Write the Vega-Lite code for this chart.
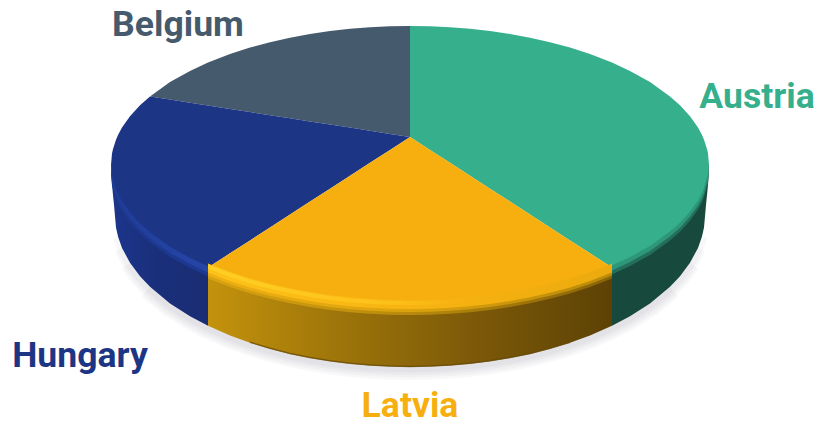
{
  "$schema": "https://vega.github.io/schema/vega-lite/v6.json",
  "width": 820,
  "height": 422,
  "padding": 0,
  "autosize": {"type": "none"},
  "background": "white",
  "config": {"view": {"stroke": null}},
  "datasets": {
    "faces": [
      {"slice":"Austria","x":0,"y":139,"y2":28},{"slice":"Austria","x":20,"y":138.7,"y2":15.1},{"slice":"Austria","x":40,"y":137.8,"y2":2.2},{"slice":"Austria","x":60,"y":136.2,"y2":-10.8},{"slice":"Austria","x":80,"y":133.9,"y2":-23.7},{"slice":"Austria","x":100,"y":131,"y2":-36.6},{"slice":"Austria","x":120,"y":127.3,"y2":-49.5},{"slice":"Austria","x":140,"y":122.8,"y2":-62.4},{"slice":"Austria","x":160,"y":117.4,"y2":-75.4},{"slice":"Austria","x":180,"y":111,"y2":-88.3},{"slice":"Austria","x":202,"y":102.5,"y2":-102.5},{"slice":"Austria","x":220,"y":94.1,"y2":-94.1},{"slice":"Austria","x":240,"y":82.9,"y2":-82.9},{"slice":"Austria","x":260,"y":68.6,"y2":-68.6},{"slice":"Austria","x":270,"y":59.7,"y2":-59.7},{"slice":"Austria","x":280,"y":48.8,"y2":-48.8},{"slice":"Austria","x":288,"y":37.4,"y2":-37.4},{"slice":"Austria","x":292,"y":29.9,"y2":-29.9},{"slice":"Austria","x":294,"y":25.3,"y2":-25.3},{"slice":"Austria","x":297,"y":16.1,"y2":-16.1},{"slice":"Austria","x":298,"y":11.4,"y2":-11.4},{"slice":"Austria","x":299,"y":0,"y2":0},
      {"slice":"Latvia","x":-202,"y":-102.5,"y2":-102.5},{"slice":"Latvia","x":-180,"y":-88.3,"y2":-111},{"slice":"Latvia","x":-160,"y":-75.4,"y2":-117.4},{"slice":"Latvia","x":-140,"y":-62.4,"y2":-122.8},{"slice":"Latvia","x":-120,"y":-49.5,"y2":-127.3},{"slice":"Latvia","x":-100,"y":-36.6,"y2":-131},{"slice":"Latvia","x":-80,"y":-23.7,"y2":-133.9},{"slice":"Latvia","x":-60,"y":-10.8,"y2":-136.2},{"slice":"Latvia","x":-40,"y":2.2,"y2":-137.8},{"slice":"Latvia","x":-20,"y":15.1,"y2":-138.7},{"slice":"Latvia","x":0,"y":28,"y2":-139},{"slice":"Latvia","x":20,"y":15.1,"y2":-138.7},{"slice":"Latvia","x":40,"y":2.2,"y2":-137.8},{"slice":"Latvia","x":60,"y":-10.8,"y2":-136.2},{"slice":"Latvia","x":80,"y":-23.7,"y2":-133.9},{"slice":"Latvia","x":100,"y":-36.6,"y2":-131},{"slice":"Latvia","x":120,"y":-49.5,"y2":-127.3},{"slice":"Latvia","x":140,"y":-62.4,"y2":-122.8},{"slice":"Latvia","x":160,"y":-75.4,"y2":-117.4},{"slice":"Latvia","x":180,"y":-88.3,"y2":-111},{"slice":"Latvia","x":202,"y":-102.5,"y2":-102.5},
      {"slice":"Hungary","x":-299,"y":0,"y2":0},{"slice":"Hungary","x":-298,"y":11.4,"y2":-11.4},{"slice":"Hungary","x":-297,"y":16.1,"y2":-16.1},{"slice":"Hungary","x":-294,"y":25.3,"y2":-25.3},{"slice":"Hungary","x":-292,"y":29.9,"y2":-29.9},{"slice":"Hungary","x":-288,"y":37.4,"y2":-37.4},{"slice":"Hungary","x":-280,"y":48.8,"y2":-48.8},{"slice":"Hungary","x":-270,"y":59.7,"y2":-59.7},{"slice":"Hungary","x":-260,"y":68.6,"y2":-68.6},{"slice":"Hungary","x":-240,"y":65.4,"y2":-82.9},{"slice":"Hungary","x":-220,"y":62.3,"y2":-94.1},{"slice":"Hungary","x":-202,"y":59.5,"y2":-102.5},{"slice":"Hungary","x":-180,"y":56.1,"y2":-88.3},{"slice":"Hungary","x":-160,"y":53,"y2":-75.4},{"slice":"Hungary","x":-140,"y":49.8,"y2":-62.4},{"slice":"Hungary","x":-120,"y":46.7,"y2":-49.5},{"slice":"Hungary","x":-100,"y":43.6,"y2":-36.6},{"slice":"Hungary","x":-80,"y":40.5,"y2":-23.7},{"slice":"Hungary","x":-60,"y":37.4,"y2":-10.8},{"slice":"Hungary","x":-40,"y":34.2,"y2":2.2},{"slice":"Hungary","x":-20,"y":31.1,"y2":15.1},{"slice":"Hungary","x":0,"y":28,"y2":28},
      {"slice":"Belgium","x":-260,"y":68.6,"y2":68.6},{"slice":"Belgium","x":-240,"y":82.9,"y2":65.4},{"slice":"Belgium","x":-220,"y":94.1,"y2":62.3},{"slice":"Belgium","x":-202,"y":102.5,"y2":59.5},{"slice":"Belgium","x":-180,"y":111,"y2":56.1},{"slice":"Belgium","x":-160,"y":117.4,"y2":53},{"slice":"Belgium","x":-140,"y":122.8,"y2":49.8},{"slice":"Belgium","x":-120,"y":127.3,"y2":46.7},{"slice":"Belgium","x":-100,"y":131,"y2":43.6},{"slice":"Belgium","x":-80,"y":133.9,"y2":40.5},{"slice":"Belgium","x":-60,"y":136.2,"y2":37.4},{"slice":"Belgium","x":-40,"y":137.8,"y2":34.2},{"slice":"Belgium","x":-20,"y":138.7,"y2":31.1},{"slice":"Belgium","x":0,"y":139,"y2":28}
    ],
    "walls": [
      {"slice":"Hungary","x":-299,"y":0,"y2":0},{"slice":"Hungary","x":-298,"y":-11.4,"y2":-20},{"slice":"Hungary","x":-296,"y":-18,"y2":-40},{"slice":"Hungary","x":-294,"y":-25.3,"y2":-62.5},{"slice":"Hungary","x":-292,"y":-29.9,"y2":-71.6},{"slice":"Hungary","x":-288,"y":-37.4,"y2":-82.9},{"slice":"Hungary","x":-280,"y":-48.8,"y2":-97.8},{"slice":"Hungary","x":-270,"y":-59.7,"y2":-111.2},{"slice":"Hungary","x":-260,"y":-68.6,"y2":-121.8},{"slice":"Hungary","x":-240,"y":-82.9,"y2":-138.4},{"slice":"Hungary","x":-220,"y":-94.1,"y2":-151.3},{"slice":"Hungary","x":-202,"y":-102.5,"y2":-160.8},
      {"slice":"Latvia","x":-202,"y":-102.5,"y2":-160.8},{"slice":"Latvia","x":-180,"y":-111,"y2":-170.4},{"slice":"Latvia","x":-160,"y":-117.4,"y2":-177.7},{"slice":"Latvia","x":-140,"y":-122.8,"y2":-183.8},{"slice":"Latvia","x":-120,"y":-127.3,"y2":-188.9},{"slice":"Latvia","x":-100,"y":-131,"y2":-193},{"slice":"Latvia","x":-80,"y":-133.9,"y2":-196.3},{"slice":"Latvia","x":-60,"y":-136.2,"y2":-198.8},{"slice":"Latvia","x":-40,"y":-137.8,"y2":-200.6},{"slice":"Latvia","x":-20,"y":-138.7,"y2":-201.6},{"slice":"Latvia","x":0,"y":-139,"y2":-202},{"slice":"Latvia","x":20,"y":-138.7,"y2":-201.6},{"slice":"Latvia","x":40,"y":-137.8,"y2":-200.6},{"slice":"Latvia","x":60,"y":-136.2,"y2":-198.8},{"slice":"Latvia","x":80,"y":-133.9,"y2":-196.3},{"slice":"Latvia","x":100,"y":-131,"y2":-193},{"slice":"Latvia","x":120,"y":-127.3,"y2":-188.9},{"slice":"Latvia","x":140,"y":-122.8,"y2":-183.8},{"slice":"Latvia","x":160,"y":-117.4,"y2":-177.7},{"slice":"Latvia","x":180,"y":-111,"y2":-170.4},{"slice":"Latvia","x":202,"y":-102.5,"y2":-160.8},
      {"slice":"Austria","x":202,"y":-102.5,"y2":-160.8},{"slice":"Austria","x":220,"y":-94.1,"y2":-151.3},{"slice":"Austria","x":240,"y":-82.9,"y2":-138.4},{"slice":"Austria","x":260,"y":-68.6,"y2":-121.8},{"slice":"Austria","x":270,"y":-59.7,"y2":-111.2},{"slice":"Austria","x":280,"y":-48.8,"y2":-97.8},{"slice":"Austria","x":288,"y":-37.4,"y2":-82.9},{"slice":"Austria","x":292,"y":-29.9,"y2":-71.6},{"slice":"Austria","x":294,"y":-25.3,"y2":-62.5},{"slice":"Austria","x":296,"y":-18,"y2":-40},{"slice":"Austria","x":298,"y":-11.4,"y2":-20},{"slice":"Austria","x":299,"y":0,"y2":0}
    ],
    "labels": [
      {"slice":"Austria","x":347,"y":57},
      {"slice":"Belgium","x":-232,"y":129},
      {"slice":"Hungary","x":-330,"y":-202},
      {"slice":"Latvia","x":0,"y":-252}
    ]
  },
  "encoding": {
    "x": {"field":"x","type":"quantitative","axis":null,"scale":{"domain":[-410,410],"nice":false,"zero":false}},
    "y": {"field":"y","type":"quantitative","axis":null,"scale":{"domain":[-257,165],"nice":false,"zero":false}}
  },
  "layer": [
    {"data":{"name":"walls"},"transform":[{"filter":"abs(datum.x) <= 260"}],"mark":{"type":"line","stroke":"#66666e","strokeWidth":26,"opacity":0.045},"encoding":{"y":{"field":"y2","type":"quantitative"}}},
    {"data":{"name":"walls"},"transform":[{"filter":"abs(datum.x) <= 280"}],"mark":{"type":"line","stroke":"#66666e","strokeWidth":21,"opacity":0.045},"encoding":{"y":{"field":"y2","type":"quantitative"}}},
    {"data":{"name":"walls"},"transform":[{"filter":"abs(datum.x) <= 288"}],"mark":{"type":"line","stroke":"#66666e","strokeWidth":16,"opacity":0.045},"encoding":{"y":{"field":"y2","type":"quantitative"}}},
    {"data":{"name":"walls"},"transform":[{"filter":"abs(datum.x) <= 292"}],"mark":{"type":"line","stroke":"#66666e","strokeWidth":11,"opacity":0.045},"encoding":{"y":{"field":"y2","type":"quantitative"}}},

    {"data":{"name":"walls"},"transform":[{"filter":"datum.slice === 'Hungary'"}],"mark":{"type":"area","fill":{"gradient":"linear","x1":0,"x2":1,"y1":0,"y2":0,"stops":[{"offset":0,"color":"#1c368c"},{"offset":0.5,"color":"#1a2f7a"},{"offset":1,"color":"#1a2d74"}]}},"encoding":{"y2":{"field":"y2"}}},
    {"data":{"name":"walls"},"transform":[{"filter":"datum.slice === 'Latvia'"}],"mark":{"type":"area","fill":{"gradient":"linear","x1":0,"x2":1,"y1":0,"y2":0,"stops":[{"offset":0,"color":"#c4920c"},{"offset":0.3,"color":"#a0770a"},{"offset":0.65,"color":"#7d5a09"},{"offset":1,"color":"#5d4205"}]}},"encoding":{"y2":{"field":"y2"}}},
    {"data":{"name":"walls"},"transform":[{"filter":"datum.slice === 'Austria'"}],"mark":{"type":"area","fill":"#17493c"},"encoding":{"y2":{"field":"y2"}}},
    {"data":{"name":"walls"},"transform":[{"filter":"datum.slice === 'Latvia' && abs(datum.x) < 180"}],"mark":{"type":"line","strokeWidth":1.5,"stroke":"#644805","opacity":0.7,"yOffset":-0.5},"encoding":{"y":{"field":"y2","type":"quantitative"}}},

    {"data":{"name":"faces"},"transform":[{"filter":"datum.slice === 'Belgium'"}],"mark":{"type":"area","fill":"#465a6d"},"encoding":{"y2":{"field":"y2"}}},
    {"data":{"name":"faces"},"transform":[{"filter":"datum.slice === 'Hungary'"}],"mark":{"type":"area","fill":"#1d3585"},"encoding":{"y2":{"field":"y2"}}},
    {"data":{"name":"faces"},"transform":[{"filter":"datum.slice === 'Austria'"}],"mark":{"type":"area","fill":"#36af8d"},"encoding":{"y2":{"field":"y2"}}},
    {"data":{"name":"faces"},"transform":[{"filter":"datum.slice === 'Latvia'"}],"mark":{"type":"area","fill":"#f7af0f"},"encoding":{"y2":{"field":"y2"}}},

    {"data":{"name":"walls"},"transform":[{"filter":"datum.slice === 'Latvia'"}],"mark":{"type":"area","yOffset":-1,"y2Offset":11,"fill":{"gradient":"linear","x1":0,"x2":1,"y1":0,"y2":0,"stops":[{"offset":0,"color":"#d9a20f"},{"offset":0.5,"color":"#b98a0c"},{"offset":1,"color":"#8a6407"}]}},"encoding":{"y2":{"field":"y"}}},
    {"data":{"name":"walls"},"transform":[{"filter":"datum.slice === 'Latvia'"}],"mark":{"type":"area","yOffset":-1,"y2Offset":8,"fill":{"gradient":"linear","x1":0,"x2":1,"y1":0,"y2":0,"stops":[{"offset":0,"color":"#eeb012"},{"offset":0.5,"color":"#dca20e"},{"offset":1,"color":"#b98a0a"}]}},"encoding":{"y2":{"field":"y"}}},
    {"data":{"name":"walls"},"transform":[{"filter":"datum.slice === 'Latvia'"}],"mark":{"type":"area","yOffset":-4,"y2Offset":5,"fill":{"gradient":"linear","x1":0,"x2":1,"y1":0,"y2":0,"stops":[{"offset":0,"color":"#fdc21a"},{"offset":0.5,"color":"#f8b411"},{"offset":1,"color":"#ecaa0e"}]}},"encoding":{"y2":{"field":"y"}}},
    {"data":{"name":"walls"},"transform":[{"filter":"datum.slice === 'Latvia' && datum.x <= 60"}],"mark":{"type":"area","yOffset":-3,"y2Offset":1,"fill":{"gradient":"linear","x1":0,"x2":1,"y1":0,"y2":0,"stops":[{"offset":0,"color":"#ffd024"},{"offset":0.7,"color":"#fdc01a"},{"offset":1,"color":"#f7af0f"}]}},"encoding":{"y2":{"field":"y"}}},

    {"data":{"name":"walls"},"transform":[{"filter":"datum.slice === 'Hungary'"}],"mark":{"type":"area","yOffset":-2,"y2Offset":9,"fill":"#1d388f"},"encoding":{"y2":{"field":"y"}}},
    {"data":{"name":"walls"},"transform":[{"filter":"datum.slice === 'Hungary'"}],"mark":{"type":"area","yOffset":-1,"y2Offset":5,"fill":{"gradient":"linear","x1":0,"x2":1,"y1":0,"y2":0,"stops":[{"offset":0,"color":"#1f3c98"},{"offset":1,"color":"#2645a6"}]}},"encoding":{"y2":{"field":"y"}}},

    {"data":{"name":"walls"},"transform":[{"filter":"datum.slice === 'Austria'"}],"mark":{"type":"area","yOffset":-1,"y2Offset":7,"fill":"#236f5b"},"encoding":{"y2":{"field":"y"}}},
    {"data":{"name":"walls"},"transform":[{"filter":"datum.slice === 'Austria'"}],"mark":{"type":"area","yOffset":-2,"y2Offset":3,"fill":"#2e9679"},"encoding":{"y2":{"field":"y"}}},

    {"data":{"name":"labels"},"mark":{"type":"text","font":"Roboto","fontWeight":"bold","fontSize":35.6,"align":"center","baseline":"alphabetic"},"encoding":{"text":{"field":"slice"},"color":{"field":"slice","type":"nominal","legend":null,"scale":{"domain":["Austria","Belgium","Hungary","Latvia"],"range":["#36af8d","#465a6d","#1d3585","#f7af0f"]}}}}
  ]
}
